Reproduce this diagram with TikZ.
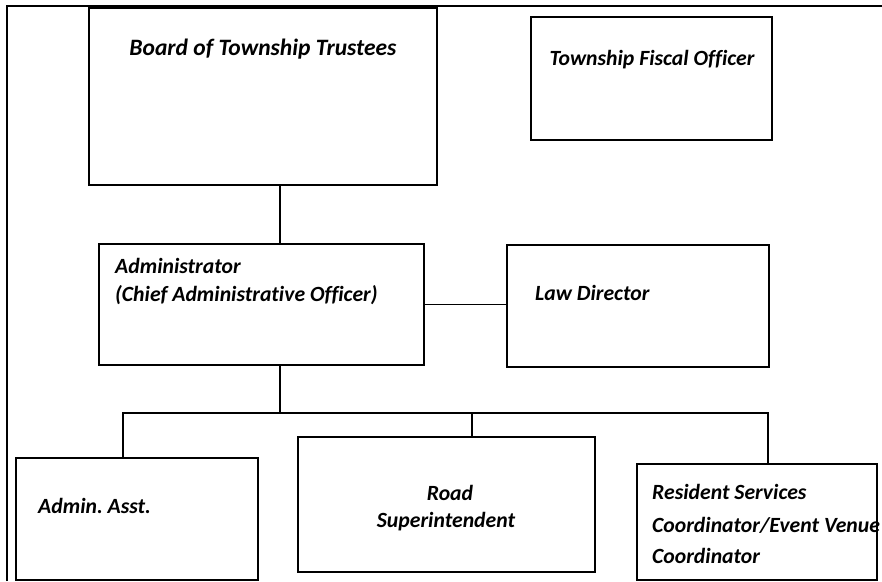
\documentclass[tikz,border=0pt]{standalone}
\usepackage{fontspec}
\setmainfont{Carlito}[Ligatures={NoCommon}]
\newcommand{\lblfont}{\bfseries\itshape\fontsize{21.7}{28}\selectfont\frenchspacing}
\begin{document}
\begin{tikzpicture}[x=1pt,y=-1pt,
  box/.style={draw, line width=1.5pt, rectangle, inner sep=0pt},
  lbl/.style={font=\lblfont, inner sep=0pt},
  conn/.style={line width=1.4pt}]
\useasboundingbox (0,0) rectangle (882,581);
% labels
\node[lbl, anchor=base, font=\bfseries\itshape\fontsize{23.5}{28}\selectfont] (boardT) at (263,55) {Board of Township Trustees};
\node[lbl, anchor=base] (fiscalT) at (652,65) {Township Fiscal Officer};
\node[lbl, anchor=base west] (adminT1) at (115,273) {Administrator};
\node[lbl, anchor=base west] (adminT2) at (115,301) {(Chief Administrative Officer)};
\node[lbl, anchor=base west] (lawT) at (535,300) {Law Director};
\node[lbl, anchor=base west] (asstT) at (38,513) {Admin. Asst.};
\node[lbl, anchor=base] (roadT1) at (450,500) {Road};
\node[lbl, anchor=base] (roadT2) at (446,527) {Superintendent};
\node[lbl, anchor=base west] (resT1) at (652,499) {Resident Services};
\node[lbl, anchor=base west] (resT2) at (652,532) {Coordinator/Event Venue};
\node[lbl, anchor=base west] (resT3) at (652,563) {Coordinator};
% outer frame
\coordinate (frameBL) at (7,581);
\coordinate (frameTL) at (7,6);
\coordinate (frameTR) at (882,6);
\draw[line width=1.4pt] (frameBL) -- (frameTL) -- (frameTR);
% boxes
\node[box, minimum width=348, minimum height=177] (board) at (263,96.5) {};
\node[box, minimum width=241, minimum height=123] (fiscal) at (651.5,78.5) {};
\node[box, minimum width=325, minimum height=121] (admin) at (261.5,304.5) {};
\node[box, minimum width=262, minimum height=122] (law) at (638,306) {};
\node[box, minimum width=242, minimum height=122] (asst) at (137,519) {};
\node[box, minimum width=297, minimum height=135] (road) at (446.5,504.5) {};
\node[box, minimum width=240, minimum height=116] (resident) at (757,522) {};
% connectors
\coordinate (j1) at (280,185);
\coordinate (bus) at (280,413);
\coordinate (busL) at (123,413);
\coordinate (busM) at (472,413);
\coordinate (busR) at (768,413);
\draw[conn] (board.south -| j1) -- (admin.north -| j1);
\draw[conn] (admin.east) -- (admin.east -| law.west);
\draw[conn] (admin.south -| bus) -- (bus);
\draw[conn] (asst.north -| busL) -- (busL) -- (busR) -- (resident.north -| busR);
\draw[conn] (busM) -- (road.north -| busM);
\end{tikzpicture}
\end{document}
